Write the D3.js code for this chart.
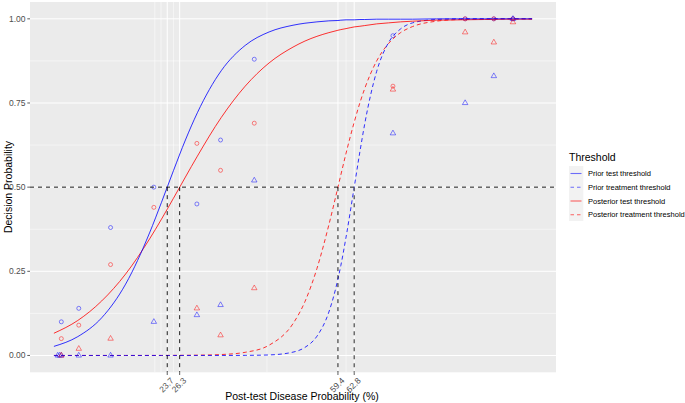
<!DOCTYPE html>
<html><head><meta charset="utf-8">
<script src="https://cdn.jsdelivr.net/npm/d3@7"></script>
<style>body{margin:0;background:#fff;} svg{display:block;font-family:"Liberation Sans",Arial,sans-serif;}</style>
</head><body>
<svg id="chart" width="685" height="403"></svg>
<script>
// ---- data ----
const xBreaks = [23.7, 26.3, 59.4, 62.8];
const xBreakLabels = ["23.7", "26.3", "59.4", "62.8"];
const xMinor = [21.1, 22.4, 25, 44.55, 61.1];
const yBreaks = [0, 0.25, 0.5, 0.75, 1];
const yBreakLabels = ["0.00", "0.25", "0.50", "0.75", "1.00"];
const yMinor = [0.125, 0.375, 0.625, 0.875];

const curveX = [0,5,10,15,20,22.5,25,27.5,30,35,40,45,50,52.5,55,57.5,59.4,60,61.1,62.8,64,65,67.5,70,72.5,75,80,85,90,95,100];
const priorTest = [0.027,0.056,0.112,0.212,0.364,0.455,0.549,0.640,0.721,0.846,0.921,0.961,0.981,0.987,0.991,0.994,0.995,0.996,0.997,0.997,0.998,0.998,0.999,0.999,0.999,0.999,1,1,1,1,1];
const postTest = [0.066,0.104,0.162,0.242,0.346,0.405,0.467,0.530,0.592,0.707,0.800,0.869,0.916,0.934,0.948,0.959,0.966,0.968,0.971,0.976,0.978,0.980,0.985,0.988,0.991,0.993,0.996,0.997,0.998,0.999,0.999];
const priorTreat = [0,0,0,0,0,0,0,0,0,0,0.0003,0.0016,0.0099,0.024,0.057,0.129,0.227,0.267,0.352,0.5,0.606,0.688,0.844,0.930,0.970,0.988,0.998,1,1,1,1];
const postTreat = [0,0,0,0,0.0001,0.0001,0.0003,0.0005,0.0009,0.0028,0.0094,0.0305,0.0945,0.160,0.258,0.388,0.5,0.536,0.601,0.693,0.751,0.793,0.875,0.927,0.959,0.977,0.993,0.998,0.999,1,1];

// observed points [x, y]
const priorTestPts = [[1.55,0.10],[5.2,0.14],[11.85,0.38],[20.9,0.50],[29.9,0.45],[34.85,0.64],[41.9,0.88],[70.9,0.95],[86,1.0],[92,1.0],[96,1.0]];
const postTestPts = [[1.55,0.05],[5.2,0.09],[11.85,0.27],[20.9,0.44],[29.9,0.63],[34.85,0.55],[41.9,0.69],[70.9,0.80],[86,1.0],[92,1.0],[96,1.0]];
const priorTreatPts = [[0.8,0],[1.2,0],[1.55,0],[5.2,0],[11.85,0],[20.9,0.10],[29.9,0.12],[34.85,0.15],[41.9,0.52],[70.9,0.66],[86,0.75],[92,0.83],[96,1.0]];
const postTreatPts = [[1.55,0],[5.2,0.02],[11.85,0.05],[29.9,0.14],[34.85,0.06],[41.9,0.20],[70.9,0.79],[86,0.96],[92,0.93],[96,0.99]];

const thresholdY = 0.5;
const legendLabels = ["Prior test threshold","Prior treatment threshold","Posterior test threshold","Posterior treatment threshold"];

// ---- drawing ----
const svg = d3.select("#chart");
const x = d3.scaleLinear().domain([-5,105]).range([30,556]);
const y = d3.scaleLinear().domain([-0.05,1.05]).range([372.3,2]);
const BLUE = "#0000ff", RED = "#ff0000";

svg.append("rect").attr("x",30).attr("y",2).attr("width",526).attr("height",370.3).attr("fill","#ebebeb");

const grid = svg.append("g");
grid.selectAll(".ymin").data(yMinor).join("line")
  .attr("x1",30).attr("x2",556).attr("y1",d=>y(d)).attr("y2",d=>y(d))
  .attr("stroke","#fff").attr("stroke-width",0.5);
grid.selectAll(".xmin").data(xMinor).join("line")
  .attr("y1",2).attr("y2",372.3).attr("x1",d=>x(d)).attr("x2",d=>x(d))
  .attr("stroke","#fff").attr("stroke-width",0.5);
grid.selectAll(".ymaj").data(yBreaks).join("line")
  .attr("x1",30).attr("x2",556).attr("y1",d=>y(d)).attr("y2",d=>y(d))
  .attr("stroke","#fff").attr("stroke-width",1);
grid.selectAll(".xmaj").data(xBreaks).join("line")
  .attr("y1",2).attr("y2",372.3).attr("x1",d=>x(d)).attr("x2",d=>x(d))
  .attr("stroke","#fff").attr("stroke-width",1);

// points
function circles(pts, col){
  svg.append("g").selectAll("circle").data(pts).join("circle")
    .attr("cx",d=>x(d[0])).attr("cy",d=>y(d[1])).attr("r",2)
    .attr("fill","none").attr("stroke",col).attr("stroke-opacity",0.6).attr("stroke-width",0.8);
}
function triangles(pts, col){
  const sym = d3.symbol().type(d3.symbolTriangle).size(13);
  svg.append("g").selectAll("path").data(pts).join("path")
    .attr("transform",d=>`translate(${x(d[0])},${y(d[1])})`).attr("d",sym)
    .attr("fill","none").attr("stroke",col).attr("stroke-opacity",0.6).attr("stroke-width",0.8);
}
circles(priorTestPts, BLUE);
circles(postTestPts, RED);
triangles(priorTreatPts, BLUE);
triangles(postTreatPts, RED);

// curves
const line = d3.line().x((d,i)=>x(curveX[i])).y(d=>y(d)).curve(d3.curveMonotoneX);
function curve(vals, col, dash){
  svg.append("path").attr("d",line(vals)).attr("fill","none").attr("stroke",col)
    .attr("stroke-opacity",0.8).attr("stroke-width",1).attr("stroke-dasharray",dash?"4,3":null);
}
curve(postTreat, RED, true);
curve(priorTreat, BLUE, true);
curve(postTest, RED, false);
curve(priorTest, BLUE, false);

// threshold lines
svg.append("line").attr("x1",30).attr("x2",556).attr("y1",y(thresholdY)).attr("y2",y(thresholdY))
  .attr("stroke","#000").attr("stroke-width",0.9).attr("stroke-dasharray","4,4");
svg.append("g").selectAll("line").data(xBreaks).join("line")
  .attr("x1",d=>x(d)).attr("x2",d=>x(d)).attr("y1",y(thresholdY)).attr("y2",372.3)
  .attr("stroke",(d,i)=>i===3?"#555":"#000").attr("stroke-width",(d,i)=>i===3?1.3:0.9).attr("stroke-dasharray","4,4");

// axes
const yAxis = svg.append("g");
yAxis.selectAll("line").data(yBreaks).join("line")
  .attr("x1",27.3).attr("x2",30).attr("y1",d=>y(d)).attr("y2",d=>y(d)).attr("stroke","#333").attr("stroke-width",0.8);
yAxis.selectAll("text").data(yBreaks).join("text")
  .attr("x",25.5).attr("y",d=>y(d)).attr("dy","0.35em").attr("text-anchor","end")
  .attr("font-size",8.5).attr("fill","#4d4d4d").text((d,i)=>yBreakLabels[i]);
const xAxis = svg.append("g");
xAxis.selectAll("line").data(xBreaks).join("line")
  .attr("x1",d=>x(d)).attr("x2",d=>x(d)).attr("y1",372.3).attr("y2",375).attr("stroke","#333").attr("stroke-width",0.8);
xAxis.selectAll("text").data(xBreaks).join("text")
  .attr("transform",d=>`translate(${x(d)+3},${377}) rotate(-45)`).attr("text-anchor","end").attr("dy","0.7em")
  .attr("font-size",8.5).attr("fill","#4d4d4d").text((d,i)=>xBreakLabels[i]);

svg.append("text").attr("x",302).attr("y",400).attr("text-anchor","middle").attr("font-size",10.5).attr("fill","#000")
  .text("Post-test Disease Probability (%)");
svg.append("text").attr("transform","translate(12,187) rotate(-90)").attr("text-anchor","middle").attr("font-size",10.5).attr("fill","#000")
  .text("Decision Probability");

// legend
const lg = svg.append("g");
lg.append("text").attr("x",569).attr("y",160.5).attr("font-size",10.5).attr("fill","#000").text("Threshold");
const keyY = [173.5, 187.3, 201, 214.8];
const keyCol = ["rgba(0,0,255,0.55)", "rgba(0,0,255,0.55)", "rgba(255,0,0,0.6)", "rgba(255,0,0,0.6)"];
const keyDash = ["none", "3.5,3", "none", "3.5,3"];
lg.append("rect").attr("x",569).attr("y",166).attr("width",14.3).attr("height",55).attr("fill","#f2f2f2");
lg.selectAll("line.key").data(legendLabels).join("line").attr("class","key")
  .attr("x1",570.5).attr("x2",581.5).attr("y1",(d,i)=>keyY[i]).attr("y2",(d,i)=>keyY[i])
  .attr("stroke",(d,i)=>keyCol[i]).attr("stroke-width",1.1)
  .attr("stroke-dasharray",(d,i)=>keyDash[i]);
lg.selectAll("text.lab").data(legendLabels).join("text").attr("class","lab")
  .attr("x",588).attr("y",(d,i)=>keyY[i]).attr("dy","0.35em").attr("font-size",7.5).attr("fill","#000").text(d=>d);
</script>
</body></html>
